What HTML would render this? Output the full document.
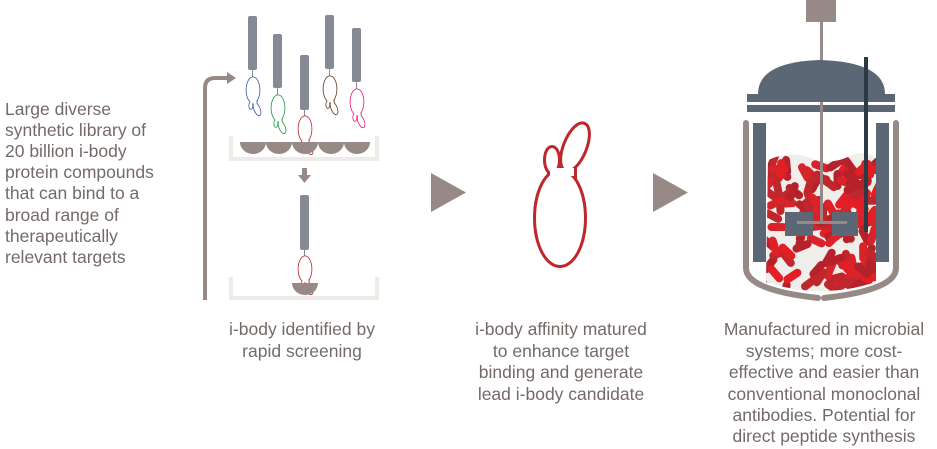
<!DOCTYPE html>
<html><head><meta charset="utf-8"><style>
html,body{margin:0;padding:0;background:#fff;}
svg{display:block}
text{font-family:"Liberation Sans",Arial,sans-serif;font-size:17.5px;fill:#746a67}
</style></head><body>
<svg id="s" width="937" height="449" viewBox="0 0 937 449" xmlns="http://www.w3.org/2000/svg">
<defs>
<g id="blob">
  <g fill="none" stroke-width="6">
    <ellipse cx="0" cy="0" rx="24" ry="47"/>
    <ellipse cx="15" cy="-71" rx="10" ry="24" transform="rotate(22 15 -71)"/>
    <ellipse cx="-8" cy="-58" rx="6" ry="12"/>
    <rect x="-10" y="-50" width="24" height="8"/>
  </g>
  <g fill="#fff" stroke="none">
    <ellipse cx="0" cy="0" rx="24" ry="47"/>
    <ellipse cx="15" cy="-71" rx="10" ry="24" transform="rotate(22 15 -71)"/>
    <ellipse cx="-8" cy="-58" rx="6" ry="12"/>
    <rect x="-10" y="-50" width="24" height="8"/>
  </g>
</g>
<clipPath id="vc"><path d="M768 160 Q790 150 810 158 Q830 166 850 156 Q865 150 876 158 L876 282 Q820 300 766 282 Z"/></clipPath>
</defs>

<text x="5" y="115">Large diverse</text>
<text x="5" y="136">synthetic library of</text>
<text x="5" y="157">20 billion i-body</text>
<text x="5" y="178">protein compounds</text>
<text x="5" y="199">that can bind to a</text>
<text x="5" y="221">broad range of</text>
<text x="5" y="242">therapeutically</text>
<text x="5" y="263">relevant targets</text>

<path d="M205 300 V88 Q205 78 215 78 H228" fill="none" stroke="#978a86" stroke-width="4"/>
<polygon points="227,72 236,78 227,84" fill="#978a86"/>

<g fill="#858a94">
<rect x="248" y="16" width="9" height="54" rx="2"/>
<rect x="273" y="34" width="9" height="54" rx="2"/>
<rect x="300" y="55" width="9" height="55" rx="2"/>
<rect x="325" y="15" width="9" height="54" rx="2"/>
<rect x="352" y="28" width="9" height="54" rx="2"/>
<rect x="300" y="195" width="9" height="55" rx="2"/>
</g>
<g stroke="#858a94" stroke-width="1">
<line x1="252.5" y1="70" x2="252.5" y2="78"/><line x1="277.5" y1="88" x2="277.5" y2="96"/>
<line x1="304.5" y1="110" x2="304.5" y2="117"/><line x1="329.5" y1="69" x2="329.5" y2="77"/>
<line x1="356.5" y1="82" x2="356.5" y2="90"/><line x1="304.5" y1="250" x2="304.5" y2="257"/>
</g>
<g transform="translate(253,90) scale(0.27,-0.27)" stroke="#3a5bb5"><use href="#blob"/></g>
<g transform="translate(278,108) scale(0.27,-0.27)" stroke="#1f9a4c"><use href="#blob"/></g>
<g transform="translate(305,129) scale(0.27,-0.27)" stroke="#c0272d"><use href="#blob"/></g>
<g transform="translate(330,89) scale(0.27,-0.27)" stroke="#6b3b1c"><use href="#blob"/></g>
<g transform="translate(357,102) scale(0.27,-0.27)" stroke="#e6197e"><use href="#blob"/></g>
<g transform="translate(305,269) scale(0.27,-0.27)" stroke="#c0272d"><use href="#blob"/></g>

<path d="M231 136 V159 H377 V136" fill="none" stroke="#eeebe7" stroke-width="4"/>
<g fill="#978a86">
<path d="M240 142 H266 A13 12 0 0 1 240 142Z"/>
<path d="M266 142 H292 A13 12 0 0 1 266 142Z"/>
<path d="M292 142 H318 A13 12 0 0 1 292 142Z"/>
<path d="M318 142 H344 A13 12 0 0 1 318 142Z"/>
<path d="M344 142 H370 A13 12 0 0 1 344 142Z"/>
<path d="M292 283 H318 A13 12 0 0 1 292 283Z"/>
</g>
<path d="M231 277 V298 H377 V277" fill="none" stroke="#eeebe7" stroke-width="4"/>
<rect x="302" y="168" width="5" height="8" fill="#978a86"/>
<polygon points="298,175 311,175 304.5,183" fill="#978a86"/>

<polygon points="431,173 466,192.5 431,212" fill="#978a86"/>
<polygon points="653,173 688,192.5 653,212" fill="#978a86"/>

<g transform="translate(560,218)" stroke="#c0272d"><use href="#blob"/></g>

<rect x="806" y="0" width="30" height="22" fill="#978a86"/>
<rect x="820" y="22" width="3" height="40" fill="#978a86"/>
<path d="M758 94 Q758 62 820 60 Q885 62 885 94 Z" fill="#5c6776"/>
<rect x="747" y="94" width="148" height="8" fill="#5c6776"/>
<rect x="747" y="105" width="148" height="7" fill="#5c6776"/>
<path d="M768 160 Q790 150 810 158 Q830 166 850 156 Q865 150 876 158 L876 282 Q820 300 766 282 Z" fill="#f0eeea"/>
<g id="bac" clip-path="url(#vc)"></g>
<rect x="753" y="123" width="13" height="139" fill="#5c6776"/>
<rect x="876" y="123" width="13" height="139" fill="#5c6776"/>
<path d="M746 123 V268 Q746 290 818 298" fill="none" stroke="#978a86" stroke-width="6" stroke-linecap="round"/>
<path d="M896 123 V268 Q896 290 824 298" fill="none" stroke="#978a86" stroke-width="6" stroke-linecap="round"/>
<rect x="820" y="102" width="3" height="122" fill="#978a86"/>
<rect x="785" y="212" width="28" height="24" fill="#5c6776"/>
<rect x="832" y="212" width="26" height="24" fill="#5c6776"/>
<rect x="797" y="221" width="50" height="3" fill="#978a86"/>
<rect x="864" y="57" width="4" height="175" fill="#2c3a44"/>

<g text-anchor="middle">
<text x="302" y="335">i-body identified by</text>
<text x="302" y="357">rapid screening</text>
<text x="561" y="335">i-body affinity matured</text>
<text x="561" y="357">to enhance target</text>
<text x="561" y="378">binding and generate</text>
<text x="561" y="400">lead i-body candidate</text>
<text x="824" y="335">Manufactured in microbial</text>
<text x="824" y="357">systems; more cost-</text>
<text x="824" y="378">effective and easier than</text>
<text x="824" y="400">conventional monoclonal</text>
<text x="824" y="421">antibodies. Potential for</text>
<text x="824" y="442">direct peptide synthesis</text>
</g>
</svg>
<script>
(function(){
var g=document.getElementById('bac'),ns='http://www.w3.org/2000/svg';
var seed=7;function r(){seed=(seed*16807)%2147483647;return seed/2147483647;}
var cols=['#c0272d','#e31e25','#b5222a','#d8232a'];
for(var i=0;i<140;i++){
 var x=764+r()*114,y=162+r()*133,a=r()*180;
 var e=document.createElementNS(ns,'rect');
 e.setAttribute('x',x-10);e.setAttribute('y',y-4);e.setAttribute('width',20);e.setAttribute('height',8);
 e.setAttribute('rx',4);e.setAttribute('fill',cols[Math.floor(r()*4)]);
 e.setAttribute('transform','rotate('+a+' '+x+' '+y+')');
 g.appendChild(e);
}
})();
</script>
</body></html>
